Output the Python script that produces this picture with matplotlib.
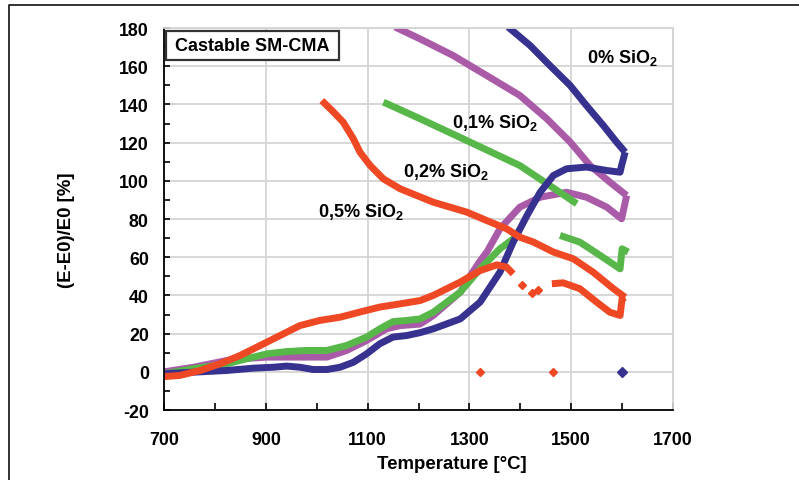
import matplotlib
matplotlib.use("Agg")
import matplotlib.pyplot as plt
from matplotlib.patches import Rectangle
from matplotlib.lines import Line2D

plt.rcParams['font.family'] = ['Liberation Sans', 'DejaVu Sans']
plt.rcParams['font.weight'] = 'bold'
plt.rcParams['mathtext.fontset'] = 'custom'
plt.rcParams['mathtext.rm'] = 'Liberation Sans:bold'
plt.rcParams['mathtext.bf'] = 'Liberation Sans:bold'
plt.rcParams['mathtext.it'] = 'Liberation Sans:bold'

# ---- data ----
# 0% SiO2 (blue)
blue_heat_T = [700, 758, 823, 875, 915, 941, 967, 993, 1020, 1046, 1072, 1098, 1124, 1150, 1177, 1203,
               1229, 1282, 1321, 1360, 1386, 1413, 1439, 1465, 1491, 1530, 1570, 1596, 1599, 1606]
blue_heat_v = [-1, -0.2, 0.7, 1.9, 2.4, 3, 2.4, 1.2, 1.2, 2.4, 5, 9.4, 14.7, 18.2, 19, 20.5,
               22.5, 27.7, 36.5, 52.2, 67.9, 81.8, 94, 102.8, 106.3, 107.2, 105.4, 104.5, 108, 115]
blue_cool_T = [1606, 1589, 1563, 1530, 1498, 1458, 1419, 1376]
blue_cool_v = [115, 120.3, 129, 139.4, 149.9, 160.4, 170.9, 180.5]
blue_zero_T = [1600]
blue_zero_v = [0]

# 0,1% SiO2 (purple)
purple_heat_T = [700, 758, 823, 862, 902, 941, 980, 1020, 1059, 1098, 1137, 1164, 1203, 1229, 1282,
                 1301, 1321, 1335, 1360, 1399, 1439, 1491, 1530, 1570, 1599, 1609]
purple_heat_v = [0, 2.4, 5.9, 7, 7.7, 7.7, 7.7, 7.7, 11.2, 16.4, 22.5, 24.2, 25, 29.5, 41.7,
                 50, 58, 63, 74.9, 86.2, 91.4, 94, 91.4, 86.2, 80.1, 92.3]
purple_cool_T = [1609, 1576, 1537, 1498, 1452, 1399, 1334, 1268, 1203, 1154]
purple_cool_v = [92.3, 99.3, 108, 120.3, 132.5, 144.7, 155.1, 165.6, 174.3, 180.5]

# 0,2% SiO2 (green)
green_heat_T = [700, 758, 823, 862, 902, 941, 980, 1020, 1059, 1098, 1124, 1150, 1177, 1203, 1229,
                1282, 1321, 1360, 1386, 1396]
green_heat_v = [-1, 1.6, 4.2, 6.8, 9.4, 10.6, 11.2, 11.2, 13.8, 18.2, 22.5, 26.3, 26.9, 27.7, 31.2,
                41.7, 53.9, 64.4, 69.6, 71]
green_heat2_T = [1478, 1517, 1557, 1596, 1600, 1612]
green_heat2_v = [71.4, 67.9, 60.9, 53.9, 64.4, 62.7]
green_cool_T = [1511, 1458, 1399, 1301, 1203, 1131]
green_cool_v = [88, 97.5, 108, 120.3, 132.5, 141.2]

# 0,5% SiO2 (red)
red_heat_T = [700, 731, 771, 810, 849, 889, 928, 967, 1006, 1046, 1085, 1124, 1164, 1203, 1229,
              1282, 1321, 1354, 1373, 1386]
red_heat_v = [-2.5, -1.9, 0.7, 4.2, 8.5, 13.8, 19, 24.2, 26.9, 28.6, 31.3, 33.9, 35.6, 37.3, 40,
              47, 53, 56, 54.8, 51.3]
red_dots_T = [1403, 1422, 1435, 1321, 1464]
red_dots_v = [45.2, 41.2, 42.6, 0, 0]
red_heat2_T = [1462, 1484, 1517, 1550, 1576, 1596, 1600, 1606]
red_heat2_v = [46.1, 46.6, 43.5, 36.5, 31.2, 29.5, 38.2, 39]
red_cool_T = [1606, 1583, 1543, 1504, 1465, 1426, 1399, 1373, 1334, 1295, 1229, 1164, 1131,
              1105, 1085, 1072, 1052, 1033, 1010]
red_cool_v = [39, 43.5, 52.2, 59.2, 62.7, 67.9, 70.5, 74.9, 79.2, 83.6, 88.8, 95.8, 101,
              108, 115, 122, 130.7, 136, 142]

labels = ['0% SiO$_2$', '0,1% SiO$_2$', '0,2% SiO$_2$', '0,5% SiO$_2$']
label_T = [1600, 1350, 1254, 1087]
label_v = [165, 131, 105, 84]

x_ticks = [700, 900, 1100, 1300, 1500, 1700]
y_ticks = [-20, 0, 20, 40, 60, 80, 100, 120, 140, 160, 180]

c_blue = '#37318f'
c_purple = '#a95ba8'
c_green = '#57b749'
c_red = '#ef4824'

fig = plt.figure(figsize=(7.99, 4.81), dpi=100)
ax = fig.add_axes([0.2053, 0.1455, 0.8423 - 0.2053, 0.9397 - 0.1455])

lw = 5
kw = dict(lw=lw, solid_capstyle='butt', solid_joinstyle='round')
ax.plot(purple_heat_T, purple_heat_v, color=c_purple, **kw)
ax.plot(purple_cool_T, purple_cool_v, color=c_purple, **kw)
ax.plot(green_heat_T, green_heat_v, color=c_green, **kw)
ax.plot(green_heat2_T, green_heat2_v, color=c_green, **kw)
ax.plot(green_cool_T, green_cool_v, color=c_green, **kw)
ax.plot(blue_heat_T, blue_heat_v, color=c_blue, **kw)
ax.plot(blue_cool_T, blue_cool_v, color=c_blue, **kw)
ax.plot(red_heat_T, red_heat_v, color=c_red, **kw)
ax.plot(red_heat2_T, red_heat2_v, color=c_red, **kw)
ax.plot(red_cool_T, red_cool_v, color=c_red, **kw)
ax.plot(red_dots_T, red_dots_v, ls='none', marker='D', ms=4.5, color=c_red)
ax.plot(blue_zero_T, blue_zero_v, ls='none', marker='D', ms=5.5, color=c_blue)

for t, x, y in zip(labels, label_T, label_v):
    ax.text(x, y, t, fontsize=13, fontweight='bold', ha='center', va='center')

ax.set_xlim(700, 1700)
ax.set_ylim(-20, 180)
ax.set_xticks(x_ticks)
ax.set_xticks(range(700, 1701, 100), minor=True)
ax.set_yticks(y_ticks)
ax.set_yticks(range(-20, 181, 10), minor=True)
ax.set_xticklabels([str(v) for v in x_ticks])
ax.set_yticklabels([str(v) for v in y_ticks])
ax.grid(True, which='major', color='#d4d4d4', lw=1.3)
ax.set_axisbelow(True)
ax.tick_params(axis='both', which='both', direction='in', labelsize=12.8, top=False, right=False)
ax.tick_params(axis='x', which='both', length=5, width=1.2, pad=15)
ax.tick_params(axis='y', which='both', length=4, width=1.2, pad=11)
for s in ['top', 'right']:
    ax.spines[s].set_color('#d4d4d4')
    ax.spines[s].set_linewidth(1.3)
for s in ['left', 'bottom']:
    ax.spines[s].set_color('black')
    ax.spines[s].set_linewidth(1.3)
for lab in ax.get_xticklabels() + ax.get_yticklabels():
    lab.set_fontweight('bold')

ax.set_xlabel('Temperature [°C]', fontsize=13.4, fontweight='bold')
ax.xaxis.set_label_coords(0.566, -0.118)
ax.set_ylabel('(E-E0)/E0 [%]', fontsize=13.4, fontweight='bold')
ax.yaxis.set_label_coords(-0.175, 0.474)

ax.add_patch(Rectangle((0.003, 0.916), 0.341, 0.076, transform=ax.transAxes,
                       facecolor='white', edgecolor='#333333', lw=1.6, zorder=5))
ax.text(0.173, 0.954, 'Castable SM-CMA', transform=ax.transAxes, fontsize=13,
        fontweight='bold', ha='center', va='center', zorder=6)

fig.add_artist(Line2D([9 / 799, 9 / 799, 1], [0, 1 - 6 / 481, 1 - 6 / 481],
                      transform=fig.transFigure, color='#222222', lw=1.3))

fig.savefig('out.png', dpi=100)
